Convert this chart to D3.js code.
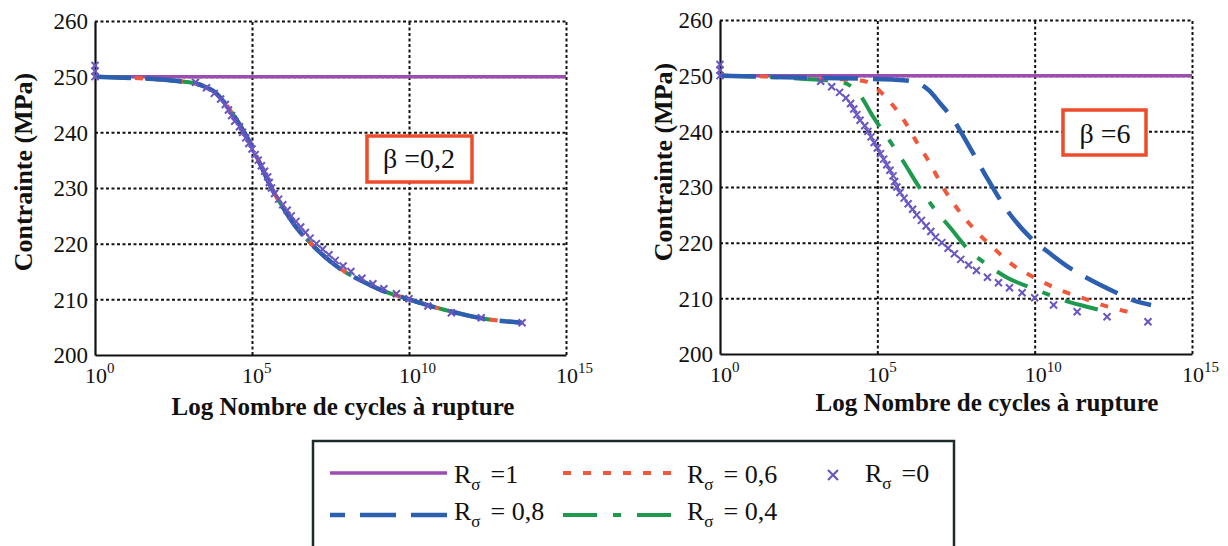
<!DOCTYPE html>
<html>
<head>
<meta charset="utf-8">
<script src="https://cdn.jsdelivr.net/npm/d3@7"></script>
<style>
body { margin: 0; background: #fff; }
svg { display: block; }
svg text { font-family: "Liberation Serif", "DejaVu Serif", "Times New Roman", serif !important; fill: #111; }
</style>
</head>
<body>
<svg id="chart" width="1228" height="546"></svg>
<script>
var serif = "'Liberation Serif', 'DejaVu Serif', 'Times New Roman', serif";

// axis ticks
var xExponents = [0, 5, 10, 15];
var yTicks = [200, 210, 220, 230, 240, 250, 260];

// [log10(N), stress MPa]
var rSigma1 = [[0, 250], [15, 250]];

// R = 0 markers (same curve in both panels)
var rSigma0 = [[0,252],[0,251],[0,250],[3.2,249],[3.55,248],[3.8,247],[4.0,246],[4.15,245],[4.25,244],
  [4.35,243],[4.45,242],[4.6,241],[4.7,240],[4.8,239],[4.9,238],[5.0,237],[5.1,236],[5.2,235],[5.3,234],
  [5.4,233],[5.5,232],[5.55,231],[5.62,230],[5.72,229],[5.85,228],[5.98,227],[6.12,226],[6.25,225],
  [6.4,224],[6.55,223],[6.7,222],[6.85,221],[7.05,220],[7.25,219],[7.45,218],[7.65,217],[7.9,216],
  [8.15,215],[8.5,213.8],[8.85,212.8],[9.2,211.9],[9.6,211],[10.0,210.1],[10.6,208.8],[11.35,207.6],
  [12.3,206.7],[13.6,205.8]];

// beta = 0,2 : R = 0,8 / 0,6 / 0,4 fall on the same curve
var lowBetaCurve = [[0,250],[3.0,249],[3.5,248.2],[3.8,247.3],[4.1,245.5],[4.4,243.2],[4.7,240.5],
  [4.95,238],[5.3,233.8],[5.6,230.2],[5.9,227.3],[6.4,223],[6.95,219.6],[7.5,216.8],[8.0,214.8],
  [8.5,213.3],[9.1,211.7],[10,210],[10.8,208.6],[11.5,207.6],[12.3,206.6],[13.6,205.8]];

// beta = 6
var rSigma08 = [[0,250],[3,249.6],[5.5,249.3],[6.0,249.1],[6.3,248.7],[6.65,247.3],[7.0,245],[7.4,242.2],
  [7.95,237],[8.5,231.5],[9.1,226],[9.85,221],[10.5,218],[11.1,215.5],[11.65,213.7],[12.6,211],
  [13.1,209.7],[13.7,208.8]];
var rSigma06 = [[0,250],[4.0,249.3],[4.6,249],[5.0,247.6],[5.4,245.3],[5.8,242.4],[6.27,237.9],[6.67,234.3],
  [7.1,229.8],[7.57,225.9],[8.1,222.3],[8.7,219],[9.3,216],[10,213.7],[10.8,211.5],[11.6,209.9],
  [12.33,208.5],[13.2,207.3]];
var rSigma04 = [[0,250],[3.0,249.3],[3.9,248.8],[4.45,246.5],[4.87,242.6],[5.5,237.4],[5.8,234.8],
  [6.35,229.8],[6.77,226.4],[7.3,222.8],[7.9,218.7],[8.5,216],[9.1,213.8],[10.07,211.5],[10.75,210],
  [11.45,208.8],[12.45,207.4]];

var betaLabels = ["\u03B2 =0,2", "\u03B2 =6"];
var legendLabels = ["=1", "= 0,8", "= 0,6", "= 0,4", "=0"];

var styles = {
  r1:  {stroke: "#9b4db0", width: 3.5, dash: null},
  r08: {stroke: "#2d5fb0", width: 4.5, dash: "36,15"},
  r06: {stroke: "#f0583c", width: 4, dash: "8,12"},
  r04: {stroke: "#1d9a4e", width: 4, dash: "34,16,8,16"}
};
var crossColor = "#6a55c2";

var svg = d3.select("#chart");
svg.append("rect").attr("width", 1228).attr("height", 546).attr("fill", "#fff");

var panels = [
  {x0: 95, x1: 566, y0: 21, y1: 355, lines: {r04: lowBetaCurve, r06: lowBetaCurve, r08: lowBetaCurve},
   beta: betaLabels[0], box: [367, 136, 105, 46], boxText: [419, 168], ylab: [32, 172], xlab: [343, 415]},
  {x0: 720, x1: 1192, y0: 20, y1: 354, lines: {r04: rSigma04, r06: rSigma06, r08: rSigma08},
   beta: betaLabels[1], box: [1063, 110, 83, 45], boxText: [1105, 143], ylab: [672, 162], xlab: [987, 411]}
];

function crossPath(s) {
  return "M" + (-s) + "," + (-s) + "L" + s + "," + s + "M" + (-s) + "," + s + "L" + s + "," + (-s);
}

panels.forEach(function(p) {
  var x = d3.scaleLog().domain([1, 1e15]).range([p.x0, p.x1]);
  var y = d3.scaleLinear().domain([200, 260]).range([p.y1, p.y0]);
  var g = svg.append("g").attr("font-family", serif);

  // dotted grid
  var gy = g.append("g")
    .attr("transform", "translate(" + p.x0 + ",0)")
    .call(d3.axisLeft(y).tickValues(yTicks.slice(1)).tickSize(-(p.x1 - p.x0)).tickFormat(""));
  var gx = g.append("g")
    .attr("transform", "translate(0," + p.y1 + ")")
    .call(d3.axisBottom(x).tickValues(xExponents.slice(1).map(function(e) { return Math.pow(10, e); }))
      .tickSize(-(p.y1 - p.y0)).tickFormat(""));
  [gx, gy].forEach(function(a) {
    a.select(".domain").remove();
    a.selectAll("text").remove();
    a.selectAll("line").attr("stroke", "#111").attr("stroke-width", 2).attr("stroke-dasharray", "3,2.5");
  });

  // solid axes
  var ay = g.append("g")
    .attr("transform", "translate(" + p.x0 + ",0)")
    .call(d3.axisLeft(y).tickValues(yTicks).tickSize(0).tickPadding(7).tickSizeOuter(0));
  ay.attr("font-family", serif);
  ay.selectAll("text").attr("font-size", 23).attr("dy", "0.34em");
  var ax = g.append("g")
    .attr("transform", "translate(0," + p.y1 + ")")
    .call(d3.axisBottom(x).tickValues(xExponents.map(function(e) { return Math.pow(10, e); }))
      .tickSize(0).tickFormat("").tickSizeOuter(0));
  ax.selectAll("text").remove();
  [ax, ay].forEach(function(a) {
    a.select(".domain").attr("stroke", "#111").attr("stroke-width", 2.2);
  });

  // x tick labels 10^n
  var xl = g.selectAll(".xl").data(xExponents).enter().append("text")
    .attr("x", function(e) { return x(Math.pow(10, e)) - 10; })
    .attr("y", p.y1 + 28)
    .attr("font-size", 22);
  xl.append("tspan").text("10");
  xl.append("tspan").attr("dy", -10).attr("font-size", 15).text(function(e) { return e; });

  // axis titles
  g.append("text")
    .attr("x", p.xlab[0]).attr("y", p.xlab[1])
    .attr("text-anchor", "middle").attr("font-size", 25).attr("font-weight", "bold")
    .text("Log Nombre de cycles \u00E0 rupture");
  g.append("text")
    .attr("transform", "translate(" + p.ylab[0] + "," + p.ylab[1] + ") rotate(-90)")
    .attr("text-anchor", "middle").attr("font-size", 26).attr("font-weight", "bold")
    .text("Contrainte (MPa)");

  // beta box
  g.append("rect")
    .attr("x", p.box[0]).attr("y", p.box[1]).attr("width", p.box[2]).attr("height", p.box[3])
    .attr("fill", "#fff").attr("stroke", "#ee4b2b").attr("stroke-width", 3.5);
  g.append("text")
    .attr("x", p.boxText[0]).attr("y", p.boxText[1])
    .attr("text-anchor", "middle").attr("font-size", 28)
    .text(p.beta);

  // curves
  var line = d3.line()
    .x(function(d) { return x(Math.pow(10, d[0])); })
    .y(function(d) { return y(d[1]); })
    .curve(d3.curveMonotoneX);

  function drawLine(data, st) {
    g.append("path").datum(data)
      .attr("d", line)
      .attr("fill", "none")
      .attr("stroke", st.stroke)
      .attr("stroke-width", st.width)
      .attr("stroke-dasharray", st.dash);
  }
  drawLine(rSigma1, styles.r1);
  drawLine(p.lines.r04, styles.r04);
  drawLine(p.lines.r06, styles.r06);
  drawLine(p.lines.r08, styles.r08);

  g.selectAll(".cross").data(rSigma0).enter().append("path")
    .attr("transform", function(d) { return "translate(" + x(Math.pow(10, d[0])) + "," + y(d[1]) + ")"; })
    .attr("d", crossPath(3.5))
    .attr("stroke", crossColor)
    .attr("stroke-width", 2)
    .attr("fill", "none");
});

// legend
var lg = svg.append("g").attr("font-family", serif);
lg.append("rect")
  .attr("x", 313).attr("y", 441).attr("width", 641).attr("height", 140)
  .attr("fill", "none").attr("stroke", "#1f2a2a").attr("stroke-width", 2.5);

var legendRows = [
  {key: "r1",  x1: 330, x2: 447, y: 473, tx: 454, ty: 483, label: legendLabels[0]},
  {key: "r08", x1: 447, x2: 330, y: 515, tx: 454, ty: 520, label: legendLabels[1]},
  {key: "r06", x1: 563, x2: 677, y: 473, tx: 687, ty: 483, label: legendLabels[2]},
  {key: "r04", x1: 563, x2: 677, y: 515, tx: 687, ty: 520, label: legendLabels[3]}
];

function legendText(tx, ty, label) {
  var t = lg.append("text").attr("x", tx).attr("y", ty).attr("font-size", 26);
  t.append("tspan").text("R");
  t.append("tspan").attr("dy", 7).attr("font-size", 17).text("\u03C3");
  t.append("tspan").attr("dy", -7).attr("dx", 10).text(label);
}

legendRows.forEach(function(r) {
  var st = styles[r.key];
  lg.append("line")
    .attr("x1", r.x1).attr("x2", r.x2).attr("y1", r.y).attr("y2", r.y)
    .attr("stroke", st.stroke).attr("stroke-width", st.width)
    .attr("stroke-dasharray", st.dash);
  legendText(r.tx, r.ty, r.label);
});

lg.append("path")
  .attr("transform", "translate(833,475)")
  .attr("d", crossPath(5))
  .attr("stroke", crossColor).attr("stroke-width", 2.2).attr("fill", "none");
legendText(865, 482, legendLabels[4]);
</script>
</body>
</html>
